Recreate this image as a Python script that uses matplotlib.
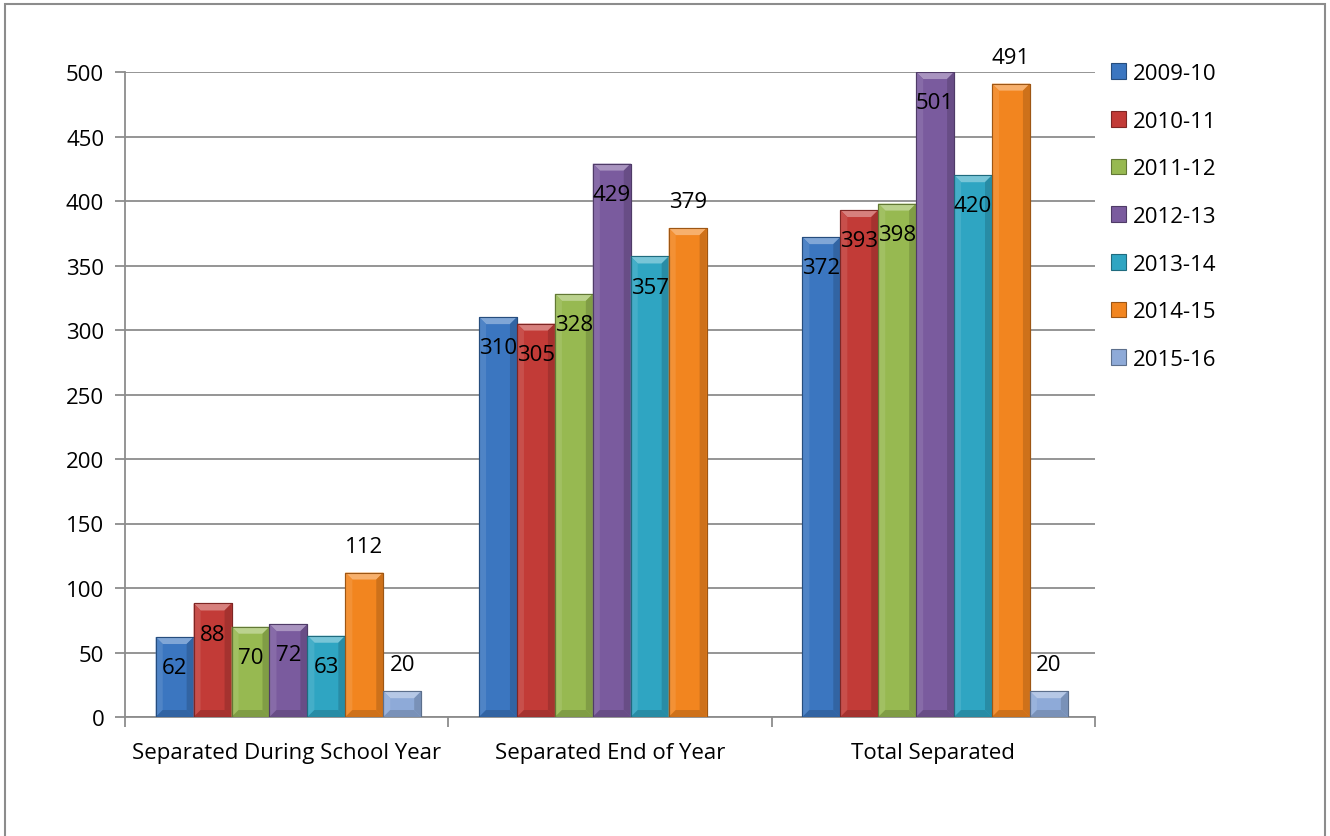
import numpy as np
import matplotlib.pyplot as plt
from matplotlib.patches import Polygon, Rectangle
from matplotlib.colors import to_rgb

categories = ['Separated During School Year', 'Separated End of Year', 'Total Separated']
years = ['2009-10', '2010-11', '2011-12', '2012-13', '2013-14', '2014-15', '2015-16']
v_0910 = [62, 310, 372]
v_1011 = [88, 305, 393]
v_1112 = [70, 328, 398]
v_1213 = [72, 429, 501]
v_1314 = [63, 357, 420]
v_1415 = [112, 379, 491]
v_1516 = [20, None, 20]

series = [v_0910, v_1011, v_1112, v_1213, v_1314, v_1415, v_1516]
colors = ['#3b76c0', '#c23b37', '#97b951', '#7a5b9e', '#2fa5c2', '#f2851f', '#8eaad8']
outside = [False, False, False, False, False, True, True]

plt.rcParams['font.family'] = ['Open Sans', 'DejaVu Sans']
FS = 16

fig = plt.figure(figsize=(13.3, 8.37), dpi=100)
ax = fig.add_axes([125 / 1330, 1 - 718 / 837, 970 / 1330, 645 / 837])
ax.set_xlim(0, 3)
ax.set_ylim(0, 500)


def shade(c, f):
    r, g, b = to_rgb(c)
    if f > 0:
        return (r + (1 - r) * f, g + (1 - g) * f, b + (1 - b) * f)
    return (r * (1 + f), g * (1 + f), b * (1 + f))


width = 0.1173
start = 0.095
px_x = 3 / 970
px_y = 500 / 645
bev = 7

for i, vals in enumerate(series):
    for j, v in enumerate(vals):
        if v is None:
            continue
        x0 = j + start + i * width
        top = min(v, 500)
        c = colors[i]
        ax.add_patch(Rectangle((x0, 0), width, top, facecolor=c,
                               edgecolor=shade(c, -0.3), lw=0.8, zorder=3))
        bx, by = bev * px_x, bev * px_y
        # bevel faces: top light, left lighter, right darker, bottom dark
        ax.add_patch(Polygon([(x0, top), (x0 + width, top),
                              (x0 + width - bx, top - by), (x0 + bx, top - by)],
                             closed=True, facecolor=shade(c, 0.35), lw=0, zorder=4))
        ax.add_patch(Polygon([(x0, 0), (x0, top), (x0 + bx, top - by), (x0 + bx, by)],
                             closed=True, facecolor=shade(c, 0.1), lw=0, zorder=4))
        ax.add_patch(Polygon([(x0 + width, 0), (x0 + width, top),
                              (x0 + width - bx, top - by), (x0 + width - bx, by)],
                             closed=True, facecolor=shade(c, -0.15), lw=0, zorder=4))
        ax.add_patch(Polygon([(x0, 0), (x0 + width, 0),
                              (x0 + width - bx, by), (x0 + bx, by)],
                             closed=True, facecolor=shade(c, -0.15), lw=0, zorder=4))
        ax.add_patch(Rectangle((x0, 0), width, top, facecolor='none',
                               edgecolor=shade(c, -0.35), lw=0.8, zorder=5))
        off = 19 if outside[i] else -22
        ax.annotate(str(v), (x0 + width / 2, top), xytext=(0, off),
                    textcoords='offset points', ha='center', va='center',
                    fontsize=FS, color='black', zorder=6)

ax.set_yticks(np.arange(0, 501, 50))
ax.yaxis.grid(True, color='#8c8c8c', lw=1.3)
ax.set_axisbelow(True)
ax.set_xticks([0, 1, 2, 3])
ax.set_xticklabels([])
ax.set_xticks([0.5, 1.5, 2.5], minor=True)
ax.set_xticklabels(categories, minor=True)
ax.tick_params(axis='x', which='minor', length=0, pad=18, labelsize=FS)
ax.tick_params(axis='x', which='major', length=7, color='#8c8c8c', width=1.3)
ax.tick_params(axis='y', length=7, color='#8c8c8c', width=1.3, labelsize=FS, pad=8)
for s in ['top', 'right']:
    ax.spines[s].set_visible(False)
for s in ['left', 'bottom']:
    ax.spines[s].set_color('#8c8c8c')
    ax.spines[s].set_linewidth(1.3)

handles = [Rectangle((0, 0), 1, 1, facecolor=c, edgecolor=shade(c, -0.35), lw=0.8)
           for c in colors]
fig.legend(handles, years, loc='upper left', bbox_to_anchor=(1102 / 1330, 1 - 55 / 837),
           frameon=False, fontsize=FS, handlelength=0.7, handleheight=0.7,
           handletextpad=0.3, labelspacing=1.2, borderaxespad=0)

fig.patches.append(Rectangle((5 / 1330, -0.05), 1320 / 1330, 1.05 - 5 / 837,
                             transform=fig.transFigure, fill=False,
                             edgecolor='#8c8c8c', lw=1.5))

fig.savefig('out.png', dpi=100)
